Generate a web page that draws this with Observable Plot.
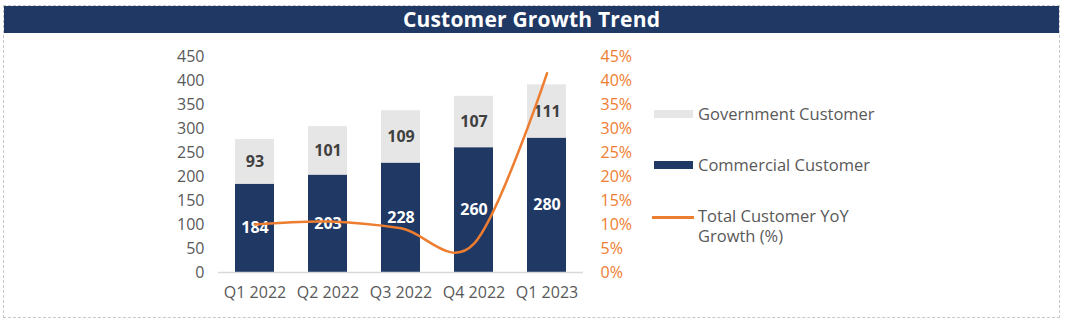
<!DOCTYPE html>
<html>
<head>
<meta charset="utf-8">
<script src="https://cdn.jsdelivr.net/npm/d3@7"></script>
<script src="https://cdn.jsdelivr.net/npm/@observablehq/plot@0.6"></script>
<style>
  html, body { margin: 0; padding: 0; background: #fff; }
  #wrap { position: relative; width: 1065px; height: 325px; overflow: hidden; font-family: "Open Sans", "Lato", sans-serif; }
  #frame { position: absolute; left: 3px; top: 5px; width: 1055px; height: 311px; border: 1px dashed #c8c8c8; }
  #title { position: absolute; left: 4px; top: 6px; width: 1055px; height: 27px; background: #1f3864; color: #fff;
           font-weight: bold; font-size: 21px; line-height: 27px; text-align: center; letter-spacing: 0.2px; }
  #chart { position: absolute; left: 0; top: 40px; }
  .leg { position: absolute; color: #595959; font-size: 16.5px; line-height: 20px; }
  .sw { position: absolute; }
</style>
</head>
<body>
<div id="wrap">
  <div id="frame"></div>
  <div id="title">Customer Growth Trend</div>
  <div id="chart"></div>
  <div id="legend"></div>
</div>
<script>
const quarters = ["Q1 2022", "Q2 2022", "Q3 2022", "Q4 2022", "Q1 2023"];
const commercial = [184, 203, 228, 260, 280];
const government = [93, 101, 109, 107, 111];
const yoyGrowth = [10.0, 10.6, 9.2, 6.0, 41.5]; // percent
const seriesNames = ["Government Customer", "Commercial Customer", "Total Customer YoY Growth (%)"];
const leftTicks = [0, 50, 100, 150, 200, 250, 300, 350, 400, 450];
const rightTicks = [0, 5, 10, 15, 20, 25, 30, 35, 40, 45];

const navy = "#1f3864", grey = "#e7e6e6", orange = "#ed7d31";

const bars = [];
quarters.forEach((q, i) => {
  bars.push({q, type: "Commercial", value: commercial[i]});
  bars.push({q, type: "Government", value: government[i]});
});
const growth = quarters.map((q, i) => ({q, pct: yoyGrowth[i]}));
const scaleRatio = 450 / 45;

const stackOpts = {x: "q", y: "value", order: ["Commercial", "Government"]};
const font = "'Open Sans', Lato, sans-serif";

const plot = Plot.plot({
  width: 1065,
  height: 285,
  marginLeft: 218,
  marginRight: 482,
  marginTop: 16,
  marginBottom: 53,
  style: {fontFamily: font, fontSize: "16px", color: "#595959", background: "transparent"},
  x: {domain: quarters, paddingInner: 0.47, paddingOuter: 0.235, label: null},
  y: {domain: [0, 450], label: null},
  color: {domain: ["Commercial", "Government"], range: [navy, grey]},
  marks: [
    Plot.barY(bars, Plot.stackY({...stackOpts, fill: "type"})),
    Plot.ruleY([0], {stroke: "#d9d9d9", strokeWidth: 1.5}),
    Plot.text(bars, Plot.stackY({...stackOpts, text: "value", fill: d => d.type === "Commercial" ? "#ffffff" : "#404040",
      fontWeight: "bold", fontSize: 16})),
    Plot.line(growth, {x: "q", y: d => d.pct * scaleRatio, stroke: orange, strokeWidth: 2.5, curve: "cardinal"}),
    Plot.axisY({anchor: "left", ticks: leftTicks, tickSize: 0, tickPadding: 14, label: null, fill: "#595959", fontSize: 16}),
    Plot.axisY({anchor: "right", ticks: rightTicks.map(t => t * scaleRatio), tickSize: 0, tickPadding: 17,
      tickFormat: d => (d / scaleRatio) + "%", label: null, fill: orange, fontSize: 16}),
    Plot.axisX({tickSize: 0, tickPadding: 14, label: null, fill: "#595959", fontSize: 16})
  ]
});
document.getElementById("chart").appendChild(plot);

// Legend
const legend = document.getElementById("legend");
const legItems = [
  {name: seriesNames[0], kind: "box", color: grey, top: 110},
  {name: seriesNames[1], kind: "box", color: navy, top: 161},
  {name: seriesNames[2], kind: "line", color: orange, top: 216}
];
legItems.forEach(it => {
  const sw = document.createElement("div");
  sw.className = "sw";
  if (it.kind === "box") {
    Object.assign(sw.style, {left: "654px", top: it.top + "px", width: "39px", height: "8px", background: it.color});
  } else {
    Object.assign(sw.style, {left: "652px", top: it.top + "px", width: "42px", height: "2.5px", background: it.color});
  }
  legend.appendChild(sw);
  const t = document.createElement("div");
  t.className = "leg";
  t.style.left = "698px";
  t.style.top = (it.kind === "box" ? it.top - 6 : it.top - 10) + "px";
  t.style.width = it.kind === "line" ? "180px" : "260px";
  t.textContent = it.name;
  legend.appendChild(t);
});
</script>
</body>
</html>
